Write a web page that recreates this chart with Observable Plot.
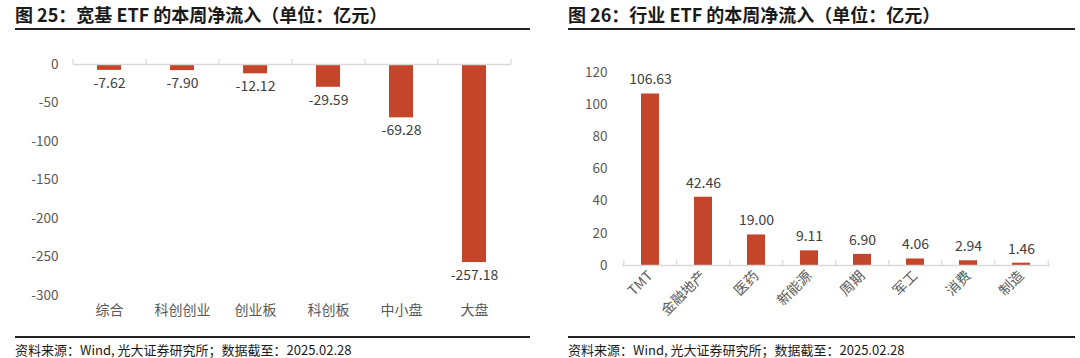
<!DOCTYPE html>
<html>
<head>
<meta charset="utf-8">
<script src="https://cdn.jsdelivr.net/npm/d3@7"></script>
<script src="https://cdn.jsdelivr.net/npm/@observablehq/plot@0.6"></script>
<style>
  html, body { margin: 0; padding: 0; background: #fff; }
  body { width: 1080px; height: 358px; position: relative; overflow: hidden;
         font-family: "Noto Sans CJK SC", "Noto Sans", sans-serif; }
  .panel { position: absolute; top: 0; }
  .title { position: absolute; left: 0; top: 3px; font-size: 18px; font-weight: bold; color: #1a1a1a; white-space: nowrap; line-height: 22px; }
  .rule { position: absolute; left: 0; right: 0; height: 2px; background: #222; }
  .chart { position: absolute; left: 0; top: 30px; }
  .source { position: absolute; left: 0; top: 341px; font-size: 13px; color: #1a1a1a; white-space: nowrap; line-height: 17px; }
  svg text { font-family: "Noto Sans CJK SC", "Noto Sans", sans-serif; }
</style>
</head>
<body>
<div class="panel" id="p1" style="left:15px;width:515px;height:358px;">
  <div class="title">图 25：宽基 ETF 的本周净流入（单位：亿元）</div>
  <div class="rule" style="top:28px;"></div>
  <div class="chart" id="c1"></div>
  <div class="rule" style="top:336px;"></div>
  <div class="source">资料来源：Wind, 光大证券研究所；数据截至：2025.02.28</div>
</div>
<div class="panel" id="p2" style="left:568px;width:507px;height:358px;">
  <div class="title">图 26：行业 ETF 的本周净流入（单位：亿元）</div>
  <div class="rule" style="top:28px;"></div>
  <div class="chart" id="c2"></div>
  <div class="rule" style="top:336px;"></div>
  <div class="source">资料来源：Wind, 光大证券研究所；数据截至：2025.02.28</div>
</div>
<script>
// ---- Data ----
const broadCategories = ["综合", "科创创业", "创业板", "科创板", "中小盘", "大盘"];
const broadValues = [-7.62, -7.90, -12.12, -29.59, -69.28, -257.18];
const broadTicks = [0, -50, -100, -150, -200, -250, -300];

const industryCategories = ["TMT", "金融地产", "医药", "新能源", "周期", "军工", "消费", "制造"];
const industryValues = [106.63, 42.46, 19.00, 9.11, 6.90, 4.06, 2.94, 1.46];
const industryTicks = [0, 20, 40, 60, 80, 100, 120];

// ---- Styles ----
const BAR = "#C5452A";
const AXIS = "#d9d9d9";
const TICKTXT = "#595959";
const LBL = "#404040";

function makeChart({cats, vals, ticks, domain, width, height, ml, mr, mt, mb, neg, rotate, pad}) {
  const data = cats.map((c, i) => ({cat: c, v: vals[i]}));
  const bw = (width - ml - mr) / cats.length;
  return Plot.plot({
    width, height,
    marginLeft: ml, marginRight: mr, marginTop: mt, marginBottom: mb,
    style: {fontSize: "13px", background: "transparent"},
    x: {domain: cats, paddingInner: pad, paddingOuter: pad / 2, label: null},
    y: {domain, label: null},
    marks: [
      Plot.axisY({ticks, tickSize: 0, tickPadding: 15, tickFormat: d => `${d}`, fill: TICKTXT, fontSize: 13.5, label: null}),
      rotate
        ? Plot.axisX({tickSize: 0, tickRotate: -45, tickPadding: 8, fill: TICKTXT, fontSize: 14, label: null})
        : Plot.axisX({tickSize: 0, tickPadding: 10, fill: TICKTXT, fontSize: 14, label: null}),
      Plot.barY(data, {x: "cat", y: "v", fill: BAR}),
      Plot.ruleY([0], {stroke: AXIS, strokeWidth: 1.5}),
      Plot.ruleX(cats, {x: d => d, y1: () => 0, y2: () => 0, dx: -bw / 2, insetTop: -5, stroke: AXIS, strokeWidth: 1.2}),
      Plot.ruleX([cats[cats.length - 1]], {x: d => d, y1: () => 0, y2: () => 0, dx: bw / 2, insetTop: -5, stroke: AXIS, strokeWidth: 1.2}),
      Plot.text(data, {x: "cat", y: "v", text: d => d.v.toFixed(2), dy: neg ? 13 : -14, fill: LBL, fontSize: 14})
    ]
  });
}

document.getElementById("c1").appendChild(makeChart({
  cats: broadCategories, vals: broadValues, ticks: broadTicks, domain: [-300, 0],
  width: 515, height: 306, ml: 58, mr: 19, mt: 34, mb: 41, neg: true, rotate: false, pad: 0.67
}));
document.getElementById("c2").appendChild(makeChart({
  cats: industryCategories, vals: industryValues, ticks: industryTicks, domain: [0, 120],
  width: 507, height: 306, ml: 54, mr: 25, mt: 42, mb: 71, neg: false, rotate: true, pad: 0.66
}));
</script>
</body>
</html>
